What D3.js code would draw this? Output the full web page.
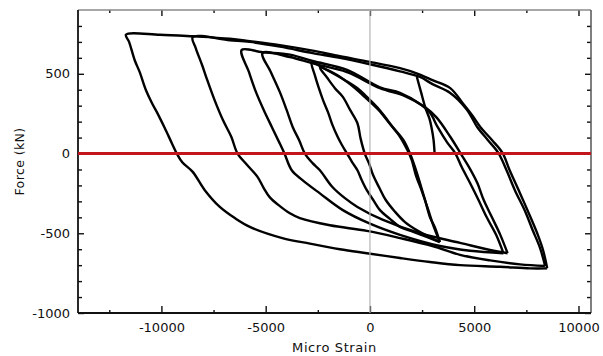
<!DOCTYPE html>
<html>
<head>
<meta charset="utf-8">
<script src="https://cdn.jsdelivr.net/npm/d3@7"></script>
<style>
  body { margin: 0; background: #fff; }
  svg { display: block; }
  text { font-family: "DejaVu Sans", Verdana, sans-serif; fill: #111; }
</style>
</head>
<body>
<div id="chart"></div>
<script>
// strain (micro) / force (kN) pairs, one array per cycle
// each cycle: bottom-right tip -> up right side -> along top -> down left side -> back along bottom
var loopA1 = [[8500,-720],[8300,-605],[8050,-510],[7700,-400],[7200,-250],[6700,-105],[6350,5],[5850,85],[5300,165],[4900,240],[4450,315],[3850,410],[3000,460],[2300,500],
  [1440,535],[0,575],[-1440,610],[-2750,645],[-4320,680],[-5760,705],[-6720,720],[-8500,735],[-10080,745],[-11700,745],
  [-11550,700],[-11280,585],[-11040,510],[-10750,400],[-10450,315],[-10200,255],[-9840,160],[-9500,65],[-9250,-3],[-9000,-55],[-8500,-115],[-7920,-230],[-7200,-335],[-6480,-405],[-5760,-460],[-4200,-530],
  [-2880,-565],[-1440,-600],[-150,-625],[1440,-655],[2880,-680],[4320,-700],[6240,-710],[7680,-720],[8500,-720]];

var loopA2 = [[8400,-705],[8150,-590],[7800,-480],[7450,-365],[6950,-230],[6550,-105],[6150,5],[5650,85],[5150,165],[4650,275],[3850,380],[3000,435],[2400,480],
  [1440,515],[0,560],[-1440,600],[-2750,630],[-4320,670],[-5760,700],[-6720,710],[-8500,730],
  [-8350,660],[-8050,555],[-7800,460],[-7450,335],[-7050,210],[-6650,105],[-6350,0],[-5900,-70],[-5400,-145],[-5100,-215],[-4800,-275],[-4320,-330],[-3840,-375],[-3360,-405],
  [-1920,-450],[-150,-485],[1440,-530],[3000,-580],[4320,-635],[5760,-670],[7200,-695],[8400,-705]];

var loopB1 = [[6400,-625],[6050,-510],[5600,-400],[5200,-290],[4800,-185],[4400,-85],[4100,0],[3700,70],[3250,165],[2880,255],[2400,310],[1440,380],[480,415],
  [-1100,525],[-2750,580],[-3840,620],[-5150,635],[-6150,650],
  [-5800,510],[-5450,380],[-5100,275],[-4700,165],[-4350,70],[-4100,0],[-3750,-105],[-3250,-165],[-2400,-250],[-1300,-355],
  [0,-440],[1440,-510],[3360,-580],[4800,-610],[6400,-625]];

var loopB2 = [[6600,-625],[6250,-510],[5850,-400],[5450,-290],[5150,-185],[4750,-85],[4350,0],[3850,105],[3200,225],[2650,290],[1680,360],[480,410],
  [-1100,510],[-2750,565],[-3840,605],[-5150,630],
  [-4750,510],[-4320,385],[-4000,275],[-3700,165],[-3400,85],[-3120,0],[-2750,-60],[-2400,-105],[-1800,-210],[-1200,-280],[-600,-335],[600,-415],
  [2400,-500],[4320,-560],[5760,-605],[6600,-625]];

var loopC1 = [[3350,-555],[3120,-465],[2880,-400],[2640,-290],[2400,-185],[2160,-85],[1920,0],[1600,85],[1100,165],[720,230],[350,290],[-150,355],[-600,410],[-1200,460],[-1800,505],[-2300,540],[-2800,575],
  [-2640,490],[-2450,410],[-2250,335],[-2000,255],[-1800,180],[-1550,105],[-1350,55],[-1100,0],[-850,-55],[-600,-105],[-400,-165],[-150,-230],[150,-290],[480,-355],[960,-410],[1440,-460],[2050,-490],[2750,-525],[3350,-555]];

var loopC2 = [[3350,-555],[3050,-455],[2800,-355],[2500,-240],[2200,-135],[2000,-40],[1800,20],[1440,105],[960,185],[400,275],[-250,355],[-960,435],[-1680,500],[-2400,540],
  [-2050,475],[-1680,410],[-1300,355],[-960,275],[-600,190],[-450,95],[-250,0],[-50,-60],[150,-135],[450,-215],[750,-290],[1200,-365],[1680,-430],[2300,-485],[2880,-525],[3350,-555]];

// last unloading branch down to zero force
var unload = [[2250,480],[2450,385],[2650,290],[2850,220],[2950,165],[3050,85],[3100,0]];

var cycles = [loopA1, loopA2, loopB1, loopB2, loopC1, loopC2, unload];

var xMajorTicks = [-10000, -5000, 0, 5000, 10000];
var xMinorTicks = [-12500, -7500, -2500, 2500, 7500];
var yMajorTicks = [-1000, -500, 0, 500];
var yMinorTicks = [-900, -800, -700, -600, -400, -300, -200, -100, 100, 200, 300, 400, 600, 700, 800];

var width = 603, height = 356;
var margins = {left: 78, top: 10, right: 12, bottom: 43};
var plotW = width - margins.left - margins.right;
var plotH = height - margins.top - margins.bottom;

var svg = d3.select("#chart").append("svg")
    .attr("width", width)
    .attr("height", height);

var chart = svg.append("g")
    .attr("transform", "translate(" + margins.left + "," + margins.top + ")");

var x = d3.scaleLinear().domain([-14000, 10600]).range([0, plotW]);
var y = d3.scaleLinear().domain([-1000, 900]).range([plotH, 0]);

function fmt(d) { return String(d); }

// tick marks point into the plot box on all four sides
function addAxis(axis, transform, ticks, size, labels, pad) {
  var g = chart.append("g")
      .attr("transform", transform)
      .call(axis.tickValues(ticks).tickSizeInner(-size).tickSizeOuter(0)
        .tickPadding(pad || 3).tickFormat(labels ? fmt : ""));
  g.select(".domain").remove();
  g.selectAll("line").attr("stroke", "#111").attr("stroke-width", 1.4);
  g.selectAll("text").attr("font-size", 13).attr("fill", "#111")
      .attr("font-family", "'DejaVu Sans', Verdana, sans-serif");
  return g;
}

addAxis(d3.axisBottom(x), "translate(0," + plotH + ")", xMajorTicks, 7, true, 10);
addAxis(d3.axisBottom(x), "translate(0," + plotH + ")", xMinorTicks, 3, false);
addAxis(d3.axisTop(x), "translate(0,0)", xMajorTicks, 6, false);
addAxis(d3.axisTop(x), "translate(0,0)", xMinorTicks, 3, false);
addAxis(d3.axisLeft(y), "translate(0,0)", yMajorTicks, 6, true, 8);
addAxis(d3.axisLeft(y), "translate(0,0)", yMinorTicks, 4, false);
addAxis(d3.axisRight(y), "translate(" + plotW + ",0)", yMajorTicks, 6, false);
addAxis(d3.axisRight(y), "translate(" + plotW + ",0)", yMinorTicks, 4, false);

// plot frame
chart.append("line").attr("x1", 0).attr("x2", plotW).attr("y1", 0).attr("y2", 0)
    .attr("stroke", "#8a8a8a").attr("stroke-width", 1.5);
chart.append("line").attr("x1", plotW).attr("x2", plotW).attr("y1", 0).attr("y2", plotH)
    .attr("stroke", "#555").attr("stroke-width", 1.5);
chart.append("line").attr("x1", 0).attr("x2", 0).attr("y1", 0).attr("y2", plotH)
    .attr("stroke", "#111").attr("stroke-width", 1.8);
chart.append("line").attr("x1", 0).attr("x2", plotW).attr("y1", plotH).attr("y2", plotH)
    .attr("stroke", "#111").attr("stroke-width", 1.8);

var valueline = d3.line()
    .x(function(d) { return x(d[0]); })
    .y(function(d) { return y(d[1]); })
    .curve(d3.curveCatmullRom.alpha(0.5));

chart.selectAll("path.cycle")
    .data(cycles)
  .enter().append("path")
    .attr("class", "cycle")
    .attr("d", valueline)
    .attr("fill", "none")
    .attr("stroke", "#000")
    .attr("stroke-width", 2.4)
    .attr("stroke-linejoin", "round");

// zero strain guide
chart.append("line")
    .attr("x1", x(0)).attr("x2", x(0)).attr("y1", 0).attr("y2", plotH)
    .attr("stroke", "#b4b4b4").attr("stroke-width", 1.2);

// zero force line
chart.append("line")
    .attr("x1", 0).attr("x2", plotW).attr("y1", y(0)).attr("y2", y(0))
    .attr("stroke", "#c3161c").attr("stroke-width", 3);

svg.append("text")
    .attr("x", margins.left + plotW / 2)
    .attr("y", 352)
    .attr("text-anchor", "middle")
    .attr("font-size", 13)
    .attr("letter-spacing", 0.6)
    .text("Micro Strain");

svg.append("text")
    .attr("transform", "translate(24," + (margins.top + plotH / 2) + ") rotate(-90)")
    .attr("text-anchor", "middle")
    .attr("font-size", 12.5)
    .attr("letter-spacing", 0.4)
    .text("Force (kN)");
</script>
</body>
</html>
